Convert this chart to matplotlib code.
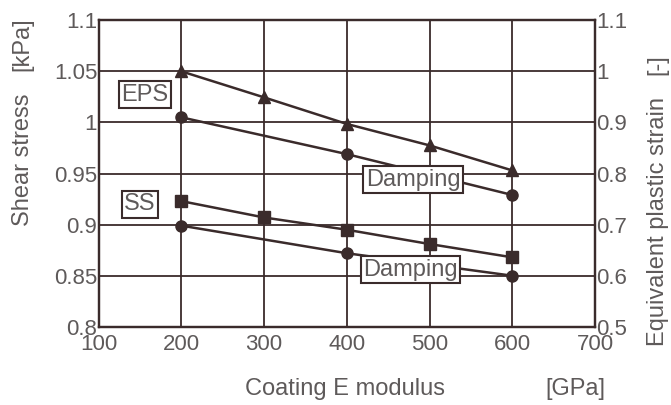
import numpy as np
from matplotlib import pyplot as plt

plt.rcParams['font.family'] = ['Liberation Sans', 'DejaVu Sans']

ink = '#3a2b2b'
txt = '#5e5a5a'

# coating modulus [GPa]
e_full = [200, 300, 400, 500, 600]
e_damp = [200, 400, 600]

# shear stress [kPa] (left axis)
ss = [0.923, 0.907, 0.895, 0.881, 0.868]
ss_damp = [0.899, 0.872, 0.850]

# equivalent plastic strain [-] (right axis)
eps = [1.000, 0.949, 0.897, 0.855, 0.806]
eps_damp = [0.910, 0.838, 0.758]

fig = plt.figure(figsize=(6.71, 4.05), dpi=100)
ax = fig.add_axes([0.147, 0.193, 0.740, 0.757])
ax2 = ax.twinx()

ax.set_xlim(100, 700)
ax.set_ylim(0.8, 1.1)
ax2.set_ylim(0.5, 1.1)
ax.set_xticks(np.arange(100, 701, 100))
ax.set_yticks([0.8, 0.85, 0.9, 0.95, 1.0, 1.05, 1.1])
ax.set_yticklabels(['0.8', '0.85', '0.9', '0.95', '1', '1.05', '1.1'])
ax2.set_yticks([0.5, 0.6, 0.7, 0.8, 0.9, 1.0, 1.1])
ax2.set_yticklabels(['0.5', '0.6', '0.7', '0.8', '0.9', '1', '1.1'])

ax.grid(True, color=ink, lw=1.3)
ax.set_axisbelow(True)
for a in (ax, ax2):
    for s in a.spines.values():
        s.set_color(ink)
        s.set_linewidth(1.6)
    a.tick_params(length=0, labelsize=16, labelcolor=txt, pad=1)
ax.tick_params(axis='x', pad=5)

ms = 8
ax.plot(e_full, ss, '-s', color=ink, lw=1.8, ms=ms)
ax.plot(e_damp, ss_damp, '-o', color=ink, lw=1.8, ms=ms)
ax2.plot(e_full, eps, '-^', color=ink, lw=1.8, ms=ms)
ax2.plot(e_damp, eps_damp, '-o', color=ink, lw=1.8, ms=ms)

box = dict(boxstyle='square,pad=0.1', fc='white', ec=ink, lw=1.5)
ax.text(156, 1.027, 'EPS', fontsize=17, color=txt, ha='center', va='center', bbox=box, zorder=10)
ax.text(150, 0.920, 'SS', fontsize=17, color=txt, ha='center', va='center', bbox=box, zorder=10)
ax2.text(480, 0.5 + (0.944 - 0.8) * 2, 'Damping', fontsize=17, color=txt,
         ha='center', va='center', bbox=box, zorder=10)
ax2.text(477, 0.5 + (0.856 - 0.8) * 2, 'Damping', fontsize=17, color=txt,
         ha='center', va='center', bbox=box, zorder=10)

fig.text(0.034, 0.605, 'Shear stress', rotation=90, fontsize=17, color=txt, ha='center', va='center')
fig.text(0.034, 0.89, '[kPa]', rotation=90, fontsize=17, color=txt, ha='center', va='center')
fig.text(0.980, 0.452, 'Equivalent plastic strain', rotation=90, fontsize=17, color=txt, ha='center', va='center')
fig.text(0.980, 0.840, '[-]', rotation=90, fontsize=17, color=txt, ha='center', va='center')
fig.text(0.514, 0.04, 'Coating E modulus', fontsize=17, color=txt, ha='center', va='center')
fig.text(0.857, 0.04, '[GPa]', fontsize=17, color=txt, ha='center', va='center')

fig.savefig('out.png', dpi=100)
